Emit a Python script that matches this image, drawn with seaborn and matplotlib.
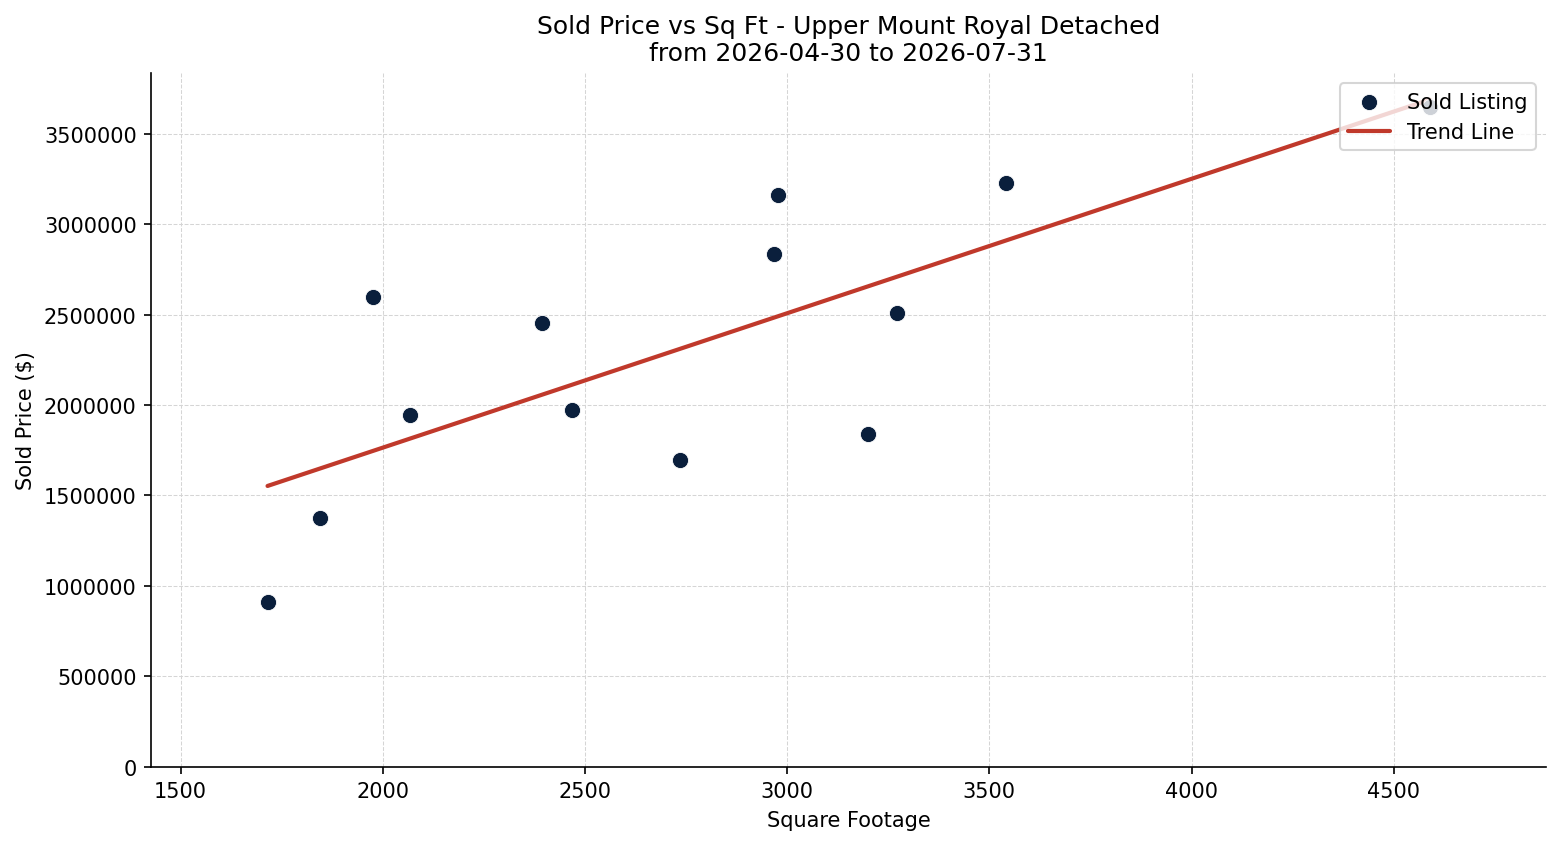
import numpy as np
import pandas as pd
import matplotlib
matplotlib.use('Agg')
import matplotlib.pyplot as plt
import seaborn as sns

# sold listings
sqft = [1715, 1844, 1975, 2067, 2394, 2468, 2735, 2968, 2978, 3200, 3272, 3542, 4589]
price = [912000, 1377000, 2599000, 1946000, 2455000, 1974000, 1697000,
         2836000, 3163000, 1841000, 2510000, 3229000, 3649000]

title = 'Sold Price vs Sq Ft - Upper Mount Royal Detached\nfrom 2026-04-30 to 2026-07-31'

df = pd.DataFrame({'sqft': sqft, 'price': price})

# trend line from least squares fit
coef = np.polyfit(df['sqft'], df['price'], 1)
xs = np.array([df['sqft'].min(), df['sqft'].max()])
trend = pd.DataFrame({'sqft': xs, 'price': np.polyval(coef, xs)})

sns.set_style('white')
plt.rcParams['font.family'] = ['DejaVu Sans']
plt.rcParams['text.color'] = 'black'
plt.rcParams['axes.labelcolor'] = 'black'

fig, ax = plt.subplots(figsize=(10.4, 5.633), dpi=150)
fig.subplots_adjust(left=0.097, right=0.991, top=0.9125, bottom=0.0915)

sns.scatterplot(data=df, x='sqft', y='price', ax=ax, color='#0a1f3c', s=60,
                edgecolor='white', linewidth=0.4, label='Sold Listing', zorder=3)
sns.lineplot(data=trend, x='sqft', y='price', ax=ax, color='#c0392b',
             linewidth=2, label='Trend Line', zorder=2)

rng = df['sqft'].max() - df['sqft'].min()
ax.set_xlim(df['sqft'].min() - 0.1 * rng, df['sqft'].max() + 0.1 * rng)
ax.set_ylim(0, 3837000)
ax.ticklabel_format(axis='y', style='plain')

ax.grid(True, linestyle='--', linewidth=0.5, color='#d5d5d5')
ax.set_axisbelow(True)
sns.despine(ax=ax)
for s in ['left', 'bottom']:
    ax.spines[s].set_color('black')
ax.tick_params(axis='both', which='both', left=True, bottom=True, labelsize=10, colors='black')

ax.set_title(title, fontsize=12, color='black')
ax.set_xlabel('Square Footage', fontsize=10)
ax.set_ylabel('Sold Price ($)', fontsize=10)
ax.legend(loc='upper right', fontsize=10, frameon=True)

fig.savefig('out.png', dpi=150)
